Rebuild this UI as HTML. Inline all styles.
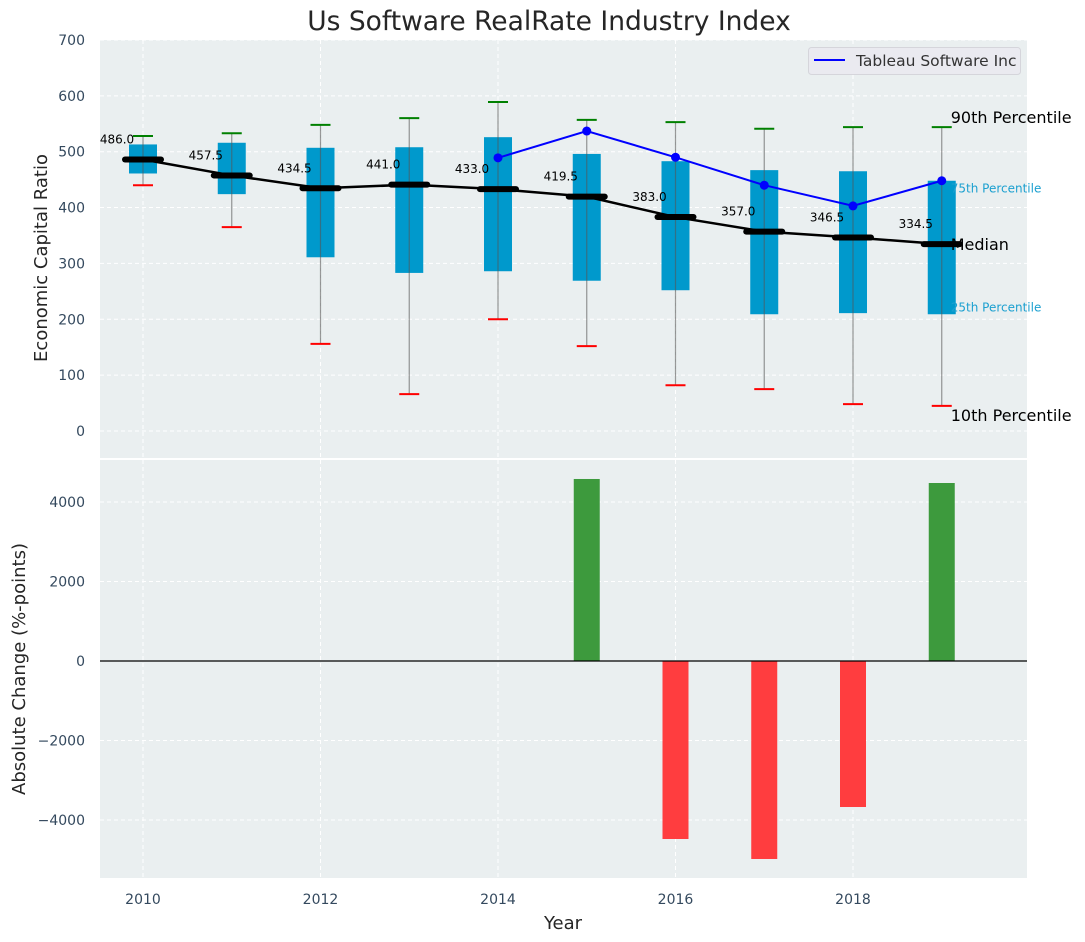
<!DOCTYPE html>
<html><head><meta charset="utf-8"><style>
body{margin:0;background:#fff;}
svg{display:block;font-family:"DejaVu Sans","Liberation Sans",sans-serif;}
</style></head><body>
<svg id="chart" width="1085" height="942" viewBox="0 0 1085 942">
<text x="549" y="30" font-size="26.5" text-anchor="middle" fill="#262626">Us Software RealRate Industry Index</text>
<rect x="100" y="40" width="927" height="418" fill="#eaeff0"/>
<rect x="100" y="460" width="927" height="418" fill="#eaeff0"/>
<g id="grid"></g>
<g id="topg"></g>
<g id="bottom"></g>
<g id="axes"></g>
<text transform="translate(47,258) rotate(-90)" font-size="18" text-anchor="middle" fill="#262626">Economic Capital Ratio</text>
<text transform="translate(25,669) rotate(-90)" font-size="18" text-anchor="middle" fill="#262626">Absolute Change (%-points)</text>
<text x="563" y="929" font-size="18" text-anchor="middle" fill="#262626">Year</text>
<g>
<rect x="808.5" y="47.5" width="212" height="27" rx="3" fill="#eaeaf0" stroke="#d5d5db"/>
<line x1="814" y1="60" x2="845" y2="60" stroke="#0000ff" stroke-width="2"/>
<text x="856" y="66" font-size="15.5" fill="#333">Tableau Software Inc</text>
</g>
</svg>
<script>
const years=[2010,2011,2012,2013,2014,2015,2016,2017,2018,2019];
const p90=[528,533,548,560,589,557,553,541,544,544];
const p75=[513,516,507,508,526,496,483,467,465,448];
const medians=[486,457.5,434.5,441,433,419.5,383,357,346.5,334.5];
const p25=[461,424,311,283,286,269,252,209,211,209];
const p10=[440,365,156,66,200,152,82,75,48,45];
const companyYears=[2014,2015,2016,2017,2018,2019];
const companyValues=[489,537,490,440,403,448];
const changeYears=[2015,2016,2017,2018,2019];
const changeValues=[4579,-4478,-4981,-3673,4478];
const topTicks=[0,100,200,300,400,500,600,700];
const bottomTicks=[-4000,-2000,0,2000,4000];
const xTicks=[2010,2012,2014,2016,2018];

const NS="http://www.w3.org/2000/svg";
function mk(parent,tag,attrs){const e=document.createElementNS(NS,tag);for(const k in attrs)e.setAttribute(k,attrs[k]);parent.appendChild(e);return e;}
const X=v=>143+(v-2010)*88.75;
const YT=v=>431-v*0.5586;
const YB=v=>661-v*159/4000;
const gridG=document.getElementById('grid'),topG=document.getElementById('topg'),botG=document.getElementById('bottom'),axesG=document.getElementById('axes');

xTicks.forEach(t=>{
  let g=mk(gridG,'line',{x1:X(t),x2:X(t),y1:40,y2:458,stroke:'#fff','stroke-dasharray':'4,3','stroke-width':1});
  
  
  g=mk(gridG,'line',{x1:X(t),x2:X(t),y1:460,y2:878,stroke:'#fff','stroke-dasharray':'4,3','stroke-width':1});
  
  
  const l=mk(axesG,'text',{x:X(t),y:904,'font-size':14,'text-anchor':'middle',fill:'#34495e'});l.textContent=t;
  
  
});
topTicks.forEach(t=>{
  const g=mk(gridG,'line',{x1:100,x2:1027,y1:YT(t),y2:YT(t),stroke:'#fff','stroke-dasharray':'4,3','stroke-width':1});
  
  
  const l=mk(axesG,'text',{x:85,y:YT(t)+5,'font-size':14,'text-anchor':'end',fill:'#34495e'});l.textContent=t;
  
  
});
bottomTicks.forEach(t=>{
  const g=mk(gridG,'line',{x1:100,x2:1027,y1:YB(t),y2:YB(t),stroke:'#fff','stroke-dasharray':'4,3','stroke-width':1});
  
  
  const l=mk(axesG,'text',{x:85,y:YB(t)+5,'font-size':14,'text-anchor':'end',fill:'#34495e'});l.textContent=(t<0?'\u2212'+(-t):t);
  
  
});

years.forEach((y,i)=>{
  const x=X(y);
  const b=mk(topG,'rect',{x:x-14,y:YT(p75[i]),width:28,height:YT(p25[i])-YT(p75[i]),fill:'#0099cc'});
  
  
  const w=mk(topG,'line',{x1:x,x2:x,y1:YT(p90[i]),y2:YT(p10[i]),stroke:'#555','stroke-opacity':0.6,'stroke-width':1.2});
  
  
  const hi=mk(topG,'line',{x1:x-10,x2:x+10,y1:YT(p90[i]),y2:YT(p90[i]),stroke:'#008000','stroke-width':2});
  
  
  const lo=mk(topG,'line',{x1:x-10,x2:x+10,y1:YT(p10[i]),y2:YT(p10[i]),stroke:'#ff0000','stroke-width':2});
  
  
});
const mp=mk(topG,'polyline',{points:years.map((y,i)=>X(y)+','+YT(medians[i])).join(' '),fill:'none',stroke:'#000','stroke-width':2.5});


years.forEach((y,i)=>{
  const x=X(y);
  const m=mk(topG,'line',{x1:x-18,x2:x+18,y1:YT(medians[i]),y2:YT(medians[i]),stroke:'#000','stroke-width':6,'stroke-linecap':'round'});
  
  
  const t=mk(topG,'text',{x:x-26,y:YT(medians[i])-16,'font-size':12,'text-anchor':'middle',fill:'#000'});t.textContent=medians[i].toFixed(1);
  
  
});
const cp=mk(topG,'polyline',{points:companyYears.map((y,i)=>X(y)+','+YT(companyValues[i])).join(' '),fill:'none',stroke:'#0000ff','stroke-width':2});


companyYears.forEach((y,i)=>{
  const c=mk(topG,'circle',{cx:X(y),cy:YT(companyValues[i]),r:4.5,fill:'#0000ff'});
  
  
});
const last=years.length-1, lx=X(years[last])+9;
[['90th Percentile',YT(p90[last])-10,16,'#000'],['75th Percentile',YT(p75[last])+8,12,'#1ca0d0'],['Median',YT(medians[last]),16,'#000'],['25th Percentile',YT(p25[last])-7,12,'#1ca0d0'],['10th Percentile',YT(p10[last])+9,16,'#000']].forEach(a=>{
  const t=mk(topG,'text',{x:lx,y:a[1]+(a[2]>12?6:4),'font-size':a[2],fill:a[3]});t.textContent=a[0];
  
  
});

changeYears.forEach((y,i)=>{
  const v=changeValues[i];
  const r=mk(botG,'rect',{x:X(y)-13,y:Math.min(YB(v),YB(0)),width:26,height:Math.abs(YB(v)-YB(0)),fill:v>=0?'#3d9a3d':'#ff3d3f'});
  
  
});
const z=mk(botG,'line',{x1:100,x2:1027,y1:YB(0),y2:YB(0),stroke:'#000','stroke-width':1.2});


</script>
</body></html>
